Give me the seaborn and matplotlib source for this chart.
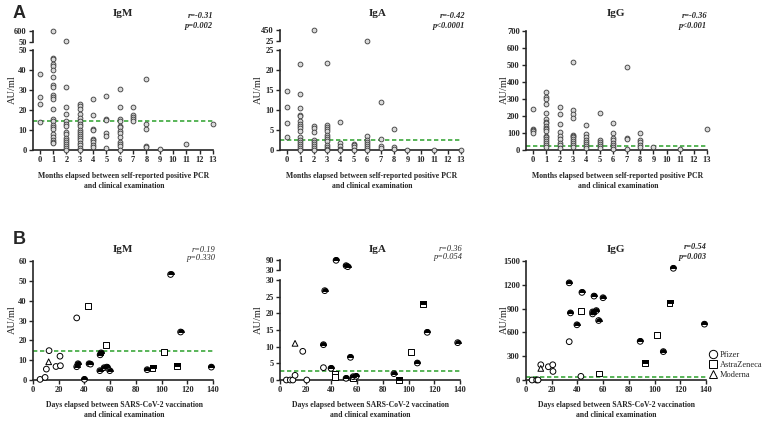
import pandas as pd
import seaborn as sns
import matplotlib.pyplot as plt
from matplotlib.markers import MarkerStyle
from matplotlib.lines import Line2D

sns.set_style("ticks")
plt.rcParams['font.family'] = ['Liberation Serif', 'DejaVu Serif']
plt.rcParams['font.weight'] = 'bold'
plt.rcParams['axes.linewidth'] = 1.2

W, H = 768, 421
GREEN = "#3ca83c"

# ---------------- panel A: months since positive PCR (values per month 0..13)
months = list(range(14))

igm_a = [
    [38, 26.5, 23, 14],
    [600, 45.8, 45.3, 43, 42, 40, 36.5, 32.7, 31.7, 27.5, 26.5, 25.3, 20.3, 15.5,
     14.3, 12.7, 11.7, 10.7, 8.2, 6.5, 5, 4.2, 3.3],
    [95, 31.5, 21.5, 18.2, 14.3, 13.2, 12.2, 9, 8, 6, 4.8, 3.8, 3, 2, 1, 0],
    [23, 22, 20.7, 18, 16.2, 14.3, 13, 11.8, 9.8, 9, 8.2, 7.2, 5.8, 5, 3.3, 2.3, 1, 0],
    [25.3, 17.3, 10.5, 10, 5.5, 4.8, 3.8, 2.3, 1.7],
    [26.8, 15.7, 15, 8.3, 7, 1],
    [30.7, 21.5, 15.5, 14.7, 12.2, 11.3, 9.3, 8.7, 6.3, 4.2, 3, 2, 0],
    [21.5, 17.7, 16.7, 15.5, 14.3],
    [35.5, 13, 10.5, 2, 1.3],
    [0.3], [], [3], [], [12.8],
]

iga_a = [
    [14.7, 10.7, 6.75, 3.25],
    [21.6, 13.9, 10.6, 8.8, 8.4, 7.25, 6.6, 6.1, 5.5, 4.8, 3.3, 2.6, 2, 1.5, 1, 0.5, 0],
    [440, 6, 5.5, 4.6, 2.6, 2.1, 1.5, 1, 0.5, 0],
    [21.7, 6.3, 5.8, 5.3, 4.8, 3.75, 3.25, 2.75, 2.2, 1.3, 0.8, 0.3, 0],
    [6.9, 1.75, 1, 0.3, 0],
    [1.6, 1.2, 0.7, 0],
    [35, 3.4, 2.6, 2.1, 1.6, 1.1, 0.5, 0],
    [11.9, 2.75, 1.1, 0.5],
    [5.25, 0.7, 0.3],
    [0], [], [0], [], [0],
]

igg_a = [
    [243, 126, 117, 109, 99],
    [344, 311, 302, 272, 216, 181, 167, 156, 144, 132, 121, 109, 84, 74, 64, 53, 41, 27, 19],
    [253, 210, 154, 105, 84, 62, 43, 27, 12],
    [517, 237, 210, 187, 91, 84, 74, 64, 53, 41, 31, 19],
    [146, 93, 74, 58, 47, 35, 23, 12],
    [216, 58, 47, 35, 23, 12],
    [161, 99, 68, 56, 39, 27, 16, 4],
    [486, 70, 64, 8],
    [101, 58, 47, 31, 16],
    [19], [], [4], [], [125],
]

# ---------------- panel B: days since vaccination
vaccines = ["Pfizer", "AstraZeneca", "Moderna"]
markers = {"Pfizer": "o", "AstraZeneca": "s", "Moderna": "^"}

igm_b_day = [5.5, 9.4, 10.4, 12.5, 17.9, 21.3, 21, 34, 12.2, 43, 57, 102, 93, 112,
             34, 35, 40, 43.6, 44.7, 52, 52.2, 53, 55.3, 57.4, 59.7, 88.8, 107, 114.8, 138.7]
igm_b_val = [0.3, 1.3, 5.5, 14.8, 6.8, 7.2, 12, 31.3, 9.2, 37.3, 17.7, 14, 6, 7.2,
             6.7, 8.2, 0.3, 8.2, 8, 4.7, 12.7, 13.7, 6.2, 6.5, 4.7, 5.2, 53.2, 24.2, 6.5]
igm_b_vac = ["Pfizer"] * 8 + ["Moderna"] + ["AstraZeneca"] * 5 + ["Pfizer"] * 15
igm_b_half = [0] * 12 + [1] * 17

iga_b_day = [5, 8, 10, 11.7, 17.7, 20.8, 33.8, 11.7, 42.6, 42.6, 56.6, 101.8, 92.7, 111,
             33.8, 34.8, 39.7, 43.6, 51.4, 52.7, 51.4, 54.8, 56.9, 59.2, 88.6, 106.8, 114.5, 138.2]
iga_b_val = [0, 0, 0, 1.4, 8.6, 0, 3.7, 11, 1.9, 0.8, 0.5, 8.5, 0.1, 22.8,
             10.6, 26.8, 3.5, 88, 56, 50, 0.5, 6.8, 1, 1.1, 1.9, 5.1, 14.3, 11.2]
iga_b_vac = ["Pfizer"] * 7 + ["Moderna"] + ["AstraZeneca"] * 6 + ["Pfizer"] * 14
iga_b_half = [0] * 12 + [1] * 16

igg_b_day = [4.7, 8.3, 9.4, 11.5, 17.4, 20.8, 21, 33.6, 42.7, 11.5, 42.7, 56.8, 101.8, 92.7, 111.7,
             33.6, 34.6, 39.6, 43.5, 51.8, 51.8, 52.9, 54.7, 56.5, 59.9, 88.8, 106.8, 114.6, 138.8]
igg_b_val = [0, 0, 0, 192, 167, 192, 108, 483, 46, 146, 871, 83, 571, 212, 967,
             1225, 846, 696, 1104, 833, 858, 1058, 875, 750, 1037, 487, 358, 1408, 704]
igg_b_vac = ["Pfizer"] * 9 + ["Moderna"] + ["AstraZeneca"] * 5 + ["Pfizer"] * 14
igg_b_half = [0] * 13 + [1] * 16

cut_a = {"IgM": 14.5, "IgA": 2.6, "IgG": 23}
cut_b = {"IgM": 14.5, "IgA": 2.8, "IgG": 33}


def box(x0, y0, x1, y1):
    return [x0 / W, 1 - y1 / H, (x1 - x0) / W, (y1 - y0) / H]


def month_df(vals):
    rows = [(m, v) for m, vs in zip(months, vals) for v in vs]
    return pd.DataFrame(rows, columns=["month", "value"])


def day_df(day, val, vac, half):
    return pd.DataFrame(dict(day=day, value=val, vaccine=vac, half=half))


def style_ax(ax, xlim, ylim, yticks, xticks=None):
    ax.set_xlim(*xlim)
    ax.set_ylim(*ylim)
    ax.set_yticks(yticks)
    sns.despine(ax=ax, bottom=xticks is None)
    if xticks is None:
        ax.set_xticks([])
    else:
        ax.set_xticks(xticks)
    ax.set_xlabel("")
    ax.set_ylabel("")
    ax.tick_params(labelsize=6, width=1, length=3, pad=1.5)


def draw_months(ax, vals, lo, hi):
    df = month_df(vals)
    df = df[(df.value >= lo) & (df.value <= hi)]
    sns.scatterplot(data=df, x="month", y="value", s=12, color="#d9d9d9",
                    edgecolor="#3a3a3a", linewidth=0.6, ax=ax, clip_on=False,
                    zorder=3, legend=False)


def draw_days(ax, df, lo, hi):
    df = df[(df.value >= lo) & (df.value <= hi)]
    sns.scatterplot(data=df, x="day", y="value", style="vaccine", markers=markers,
                    style_order=vaccines, s=17, color="white", edgecolor="black",
                    linewidth=0.7, ax=ax, clip_on=False, zorder=3, legend=False)
    for vac, sub in df[df.half == 1].groupby("vaccine"):
        sns.scatterplot(data=sub, x="day", y="value",
                        marker=MarkerStyle(markers[vac], fillstyle="top"), s=17,
                        color="black", edgecolor="black", linewidth=0.7, ax=ax,
                        clip_on=False, zorder=4, legend=False)


def cutoff(ax, y):
    ax.axhline(y, color=GREEN, ls=(0, (2.6, 1.6)), lw=1.2, zorder=2)


fig = plt.figure(figsize=(W / 100, H / 100), dpi=100)

XL_A = (-0.5, 13)
XT_A = months

# ---- IgM A (broken)
ax = fig.add_axes(box(33, 31, 213, 42))
draw_months(ax, igm_a, 50.01, 600)
style_ax(ax, XL_A, (50, 600), [50, 600])
ax = fig.add_axes(box(33, 50, 213, 150))
draw_months(ax, igm_a, 0, 50)
cutoff(ax, cut_a["IgM"])
style_ax(ax, XL_A, (0, 50), range(0, 51, 10), XT_A)

# ---- IgA A (broken)
ax = fig.add_axes(box(280, 30, 461, 41))
draw_months(ax, iga_a, 25.01, 450)
style_ax(ax, XL_A, (25, 450), [25, 450])
ax = fig.add_axes(box(280, 50, 461, 150))
draw_months(ax, iga_a, 0, 25)
cutoff(ax, cut_a["IgA"])
style_ax(ax, XL_A, (0, 25), range(0, 26, 5), XT_A)

# ---- IgG A
ax = fig.add_axes(box(526, 31, 707, 150))
draw_months(ax, igg_a, 0, 700)
cutoff(ax, cut_a["IgG"])
style_ax(ax, XL_A, (0, 700), range(0, 701, 100), XT_A)

XL_B = (0, 140)
XT_B = range(0, 141, 20)

# ---- IgM B
df = day_df(igm_b_day, igm_b_val, igm_b_vac, igm_b_half)
ax = fig.add_axes(box(33, 261, 213, 380))
draw_days(ax, df, 0, 60)
cutoff(ax, cut_b["IgM"])
style_ax(ax, XL_B, (0, 60), range(0, 61, 10), XT_B)

# ---- IgA B (broken)
df = day_df(iga_b_day, iga_b_val, iga_b_vac, iga_b_half)
ax = fig.add_axes(box(280, 260, 460, 270))
draw_days(ax, df, 30.01, 90)
style_ax(ax, XL_B, (30, 90), [30, 90])
ax = fig.add_axes(box(280, 280, 460, 380))
draw_days(ax, df, 0, 30)
cutoff(ax, cut_b["IgA"])
style_ax(ax, XL_B, (0, 30), range(0, 31, 5), XT_B)

# ---- IgG B
df = day_df(igg_b_day, igg_b_val, igg_b_vac, igg_b_half)
ax = fig.add_axes(box(526, 261, 706, 380))
draw_days(ax, df, 0, 1500)
cutoff(ax, cut_b["IgG"])
style_ax(ax, XL_B, (0, 1500), range(0, 1501, 300), XT_B)

handles = [Line2D([], [], ls="", marker=markers[v], markersize=6, markerfacecolor="white",
                  markeredgecolor="black", markeredgewidth=0.7) for v in vaccines]
fig.legend(handles, vaccines, loc="center left", bbox_to_anchor=(706 / W, 1 - 365 / H),
           frameon=False, handlelength=0.9, handletextpad=0.35, borderaxespad=0,
           labelspacing=0.2, prop=dict(weight="normal", size=6))


def ftext(x, y, s, **kw):
    fig.text(x / W, 1 - y / H, s, **kw)


# panel letters
ftext(19, 13, "A", fontsize=13, family="Liberation Sans", ha="center", va="center")
ftext(19, 240, "B", fontsize=13, family="Liberation Sans", ha="center", va="center")

# titles
for x, y, s in [(123, 13, "IgM"), (378, 13, "IgA"), (616, 13, "IgG"),
                (123, 250, "IgM"), (378, 250, "IgA"), (616, 250, "IgG")]:
    ftext(x, y, s, fontsize=8, ha="center", va="center")

# correlation stats
stats = [(213, 16, 26, "r=-0.31", "p=0.002", "bold"),
         (465, 16, 26, "r=-0.42", "p<0.0001", "bold"),
         (707, 16, 26, "r=-0.36", "p<0.001", "bold"),
         (215, 250, 258, "r=0.19", "p=0.330", "normal"),
         (462, 249, 257, "r=0.36", "p=0.054", "normal"),
         (707, 247, 257, "r=0.54", "p=0.003", "bold")]
for x, y1, y2, r, p, w in stats:
    ftext(x, y1, r, fontsize=6, style="italic", weight=w, ha="right", va="center")
    ftext(x, y2, p, fontsize=6, style="italic", weight=w, ha="right", va="center")

# y labels
for x in (12, 258, 504):
    ftext(x, 90, "AU/ml", fontsize=7.5, weight="normal", rotation=90, ha="center", va="center")
    ftext(x, 320, "AU/ml", fontsize=7.5, weight="normal", rotation=90, ha="center", va="center")

# x labels
xa = "Months elapsed between self-reported positive PCR\nand clinical examination"
xb = "Days elapsed between SARS-CoV-2 vaccination\nand clinical examination"
for x in (124, 372, 618):
    ftext(x, 181, xa, fontsize=5.6, ha="center", va="center", linespacing=1.4)
for x in (124, 370, 616):
    ftext(x, 410, xb, fontsize=5.6, ha="center", va="center", linespacing=1.4)

plt.savefig("out.png", dpi=100)
